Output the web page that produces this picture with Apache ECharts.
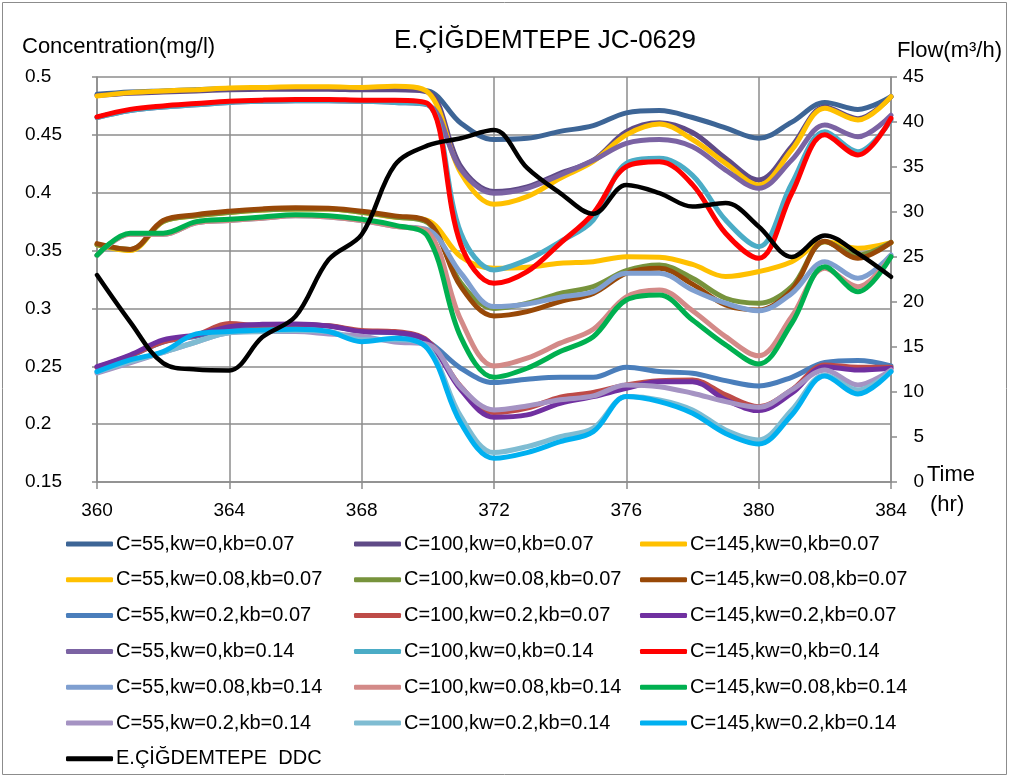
<!DOCTYPE html>
<html>
<head>
<meta charset="utf-8">
<script src="https://cdn.jsdelivr.net/npm/echarts@6/dist/echarts.min.js"></script>
<style>
html,body{margin:0;padding:0;background:#fff;}
#chart{width:1010px;height:778px;}
</style>
</head>
<body>
<div id="chart"></div>
<script>
// ---- data ----
const hours = [360,361,362,363,364,365,366,367,368,369,370,371,372,373,374,375,376,377,378,379,380,381,382,383,384];
const xTicks = [360,364,368,372,376,380,384];

const c55_kw0_kb007   = [0.485,0.487,0.488,0.489,0.490,0.490,0.490,0.490,0.4895,0.4895,0.488,0.460,0.446,0.447,0.453,0.458,0.469,0.471,0.465,0.456,0.447,0.461,0.478,0.472,0.483];
const c100_kw0_kb007  = [0.484,0.486,0.487,0.488,0.489,0.4895,0.4895,0.4895,0.489,0.489,0.487,0.4225,0.401,0.405,0.4168,0.428,0.4527,0.4605,0.452,0.4297,0.411,0.440,0.474,0.464,0.483];
const c145_kw0_kb007  = [0.4836,0.4865,0.488,0.489,0.4905,0.491,0.4915,0.4915,0.491,0.492,0.487,0.417,0.390,0.3966,0.4125,0.427,0.450,0.4594,0.446,0.4254,0.4067,0.437,0.473,0.4628,0.483];
const c55_kw008_kb007 = [0.355,0.350,0.375,0.380,0.383,0.385,0.386,0.386,0.383,0.379,0.376,0.3447,0.3347,0.3356,0.339,0.3404,0.3447,0.3442,0.338,0.3275,0.3318,0.3404,0.3577,0.352,0.3568];
const c100_kw008_kb007= [0.355,0.351,0.375,0.380,0.383,0.385,0.386,0.386,0.383,0.379,0.374,0.322,0.300,0.3045,0.313,0.3188,0.3326,0.3376,0.326,0.3088,0.3045,0.3188,0.3577,0.3462,0.357];
const c145_kw008_kb007= [0.356,0.351,0.376,0.381,0.384,0.386,0.387,0.3865,0.384,0.380,0.375,0.3188,0.2935,0.2972,0.306,0.313,0.3304,0.3347,0.321,0.303,0.2987,0.316,0.358,0.3434,0.357];
const c55_kw02_kb007  = [0.249,0.259,0.271,0.276,0.283,0.285,0.286,0.285,0.280,0.279,0.2713,0.2483,0.2359,0.2388,0.2405,0.2405,0.2492,0.2454,0.244,0.2376,0.233,0.2405,0.2532,0.2549,0.2503];
const c100_kw02_kb007 = [0.249,0.259,0.271,0.277,0.287,0.285,0.286,0.285,0.281,0.280,0.272,0.2324,0.210,0.2138,0.2233,0.2273,0.2339,0.2376,0.2382,0.2253,0.2151,0.2296,0.2512,0.2492,0.2492];
const c145_kw02_kb007 = [0.2497,0.2598,0.2728,0.2771,0.2843,0.2863,0.2866,0.2849,0.280,0.2791,0.2713,0.2296,0.206,0.208,0.218,0.2238,0.231,0.2367,0.2367,0.221,0.2117,0.2267,0.2497,0.2468,0.2483];
const c55_kw0_kb014   = [0.465,0.471,0.474,0.476,0.478,0.479,0.4795,0.4795,0.479,0.478,0.476,0.420,0.3995,0.4038,0.4153,0.428,0.4427,0.446,0.4398,0.4196,0.4038,0.4283,0.4585,0.4484,0.467];
const c100_kw0_kb014  = [0.465,0.471,0.474,0.476,0.478,0.479,0.4795,0.4795,0.479,0.478,0.476,0.365,0.3333,0.342,0.3577,0.3764,0.4254,0.4297,0.415,0.3764,0.3534,0.408,0.4527,0.4355,0.4628];
const c145_kw0_kb014  = [0.4655,0.472,0.475,0.477,0.479,0.480,0.4805,0.4805,0.480,0.480,0.477,0.355,0.3217,0.3318,0.3563,0.3822,0.4225,0.4268,0.407,0.365,0.3434,0.3995,0.450,0.4326,0.4643];
const c55_kw008_kb014 = [0.346,0.364,0.364,0.374,0.376,0.378,0.380,0.379,0.376,0.371,0.368,0.3304,0.3016,0.3039,0.3097,0.3145,0.3304,0.3304,0.316,0.3045,0.298,0.313,0.3404,0.326,0.3462];
const c100_kw008_kb014= [0.346,0.364,0.364,0.374,0.376,0.378,0.380,0.379,0.376,0.371,0.366,0.290,0.2503,0.257,0.270,0.282,0.310,0.316,0.298,0.2756,0.259,0.293,0.3347,0.3188,0.3447];
const c145_kw008_kb014= [0.346,0.365,0.365,0.375,0.377,0.379,0.381,0.380,0.377,0.372,0.362,0.275,0.2405,0.2483,0.2627,0.2756,0.3073,0.3116,0.290,0.2685,0.252,0.2872,0.336,0.3145,0.3447];
const c55_kw02_kb014  = [0.244,0.253,0.262,0.271,0.279,0.280,0.280,0.278,0.276,0.271,0.269,0.232,0.2123,0.2157,0.221,0.2244,0.2339,0.2324,0.2267,0.2195,0.2146,0.2296,0.2468,0.2339,0.2468];
const c100_kw02_kb014 = [0.245,0.254,0.262,0.271,0.279,0.280,0.281,0.280,0.273,0.273,0.266,0.2065,0.1754,0.1806,0.1892,0.1965,0.2238,0.221,0.2123,0.195,0.1864,0.2123,0.2425,0.2296,0.2454];
const c145_kw02_kb014 = [0.2454,0.2555,0.2627,0.278,0.280,0.2814,0.282,0.280,0.2713,0.2742,0.265,0.2008,0.1705,0.1754,0.1849,0.1935,0.2238,0.2195,0.2094,0.192,0.1829,0.208,0.2417,0.2261,0.2454];
const ddcFlow         = [23.0,17.8,13.2,12.5,12.4,16.1,18.4,24.7,27.5,35.2,37.4,38.2,39.1,34.9,32.1,29.8,33.0,32.1,30.6,31.0,28.4,25.0,27.4,25.4,22.8];

const seriesNames = [
  'C=55,kw=0,kb=0.07','C=100,kw=0,kb=0.07','C=145,kw=0,kb=0.07',
  'C=55,kw=0.08,kb=0.07','C=100,kw=0.08,kb=0.07','C=145,kw=0.08,kb=0.07',
  'C=55,kw=0.2,kb=0.07','C=100,kw=0.2,kb=0.07','C=145,kw=0.2,kb=0.07',
  'C=55,kw=0,kb=0.14','C=100,kw=0,kb=0.14','C=145,kw=0,kb=0.14',
  'C=55,kw=0.08,kb=0.14','C=100,kw=0.08,kb=0.14','C=145,kw=0.08,kb=0.14',
  'C=55,kw=0.2,kb=0.14','C=100,kw=0.2,kb=0.14','C=145,kw=0.2,kb=0.14'
];
const ddcName = 'E.ÇİĞDEMTEPE  DDC';
const seriesValues = [
  c55_kw0_kb007,c100_kw0_kb007,c145_kw0_kb007,
  c55_kw008_kb007,c100_kw008_kb007,c145_kw008_kb007,
  c55_kw02_kb007,c100_kw02_kb007,c145_kw02_kb007,
  c55_kw0_kb014,c100_kw0_kb014,c145_kw0_kb014,
  c55_kw008_kb014,c100_kw008_kb014,c145_kw008_kb014,
  c55_kw02_kb014,c100_kw02_kb014,c145_kw02_kb014
];
const seriesColors = [
  '#3D6596','#5F4A87','#FFC000',
  '#FFC000','#77933C','#984807',
  '#4A7EBB','#BE4B48','#7030A0',
  '#7B63A3','#4BACC6','#FF0000',
  '#7F9FD0','#D38A88','#00B050',
  '#A593C3','#7FBCD2','#00B0F0'
];

// ---- chart ----
const FONT = 'Liberation Sans';
const chart = echarts.init(document.getElementById('chart'));

const series = seriesValues.map((vals, i) => ({
  name: seriesNames[i],
  type: 'line',
  yAxisIndex: 0,
  smooth: 0.35,
  showSymbol: false,
  symbol: 'none',
  color: seriesColors[i],
  lineStyle: {width: 5, color: seriesColors[i], cap: 'round'},
  data: hours.map((h, j) => [h, vals[j]])
}));
series.push({
  name: ddcName,
  type: 'line',
  yAxisIndex: 1,
  smooth: 0.35,
  showSymbol: false,
  symbol: 'none',
  color: '#000000',
  lineStyle: {width: 4.5, color: '#000000', cap: 'round'},
  data: hours.map((h, j) => [h, ddcFlow[j]])
});

const col1 = [seriesNames[0],seriesNames[3],seriesNames[6],seriesNames[9],seriesNames[12],seriesNames[15],ddcName];
const col2 = [seriesNames[1],seriesNames[4],seriesNames[7],seriesNames[10],seriesNames[13],seriesNames[16]];
const col3 = [seriesNames[2],seriesNames[5],seriesNames[8],seriesNames[11],seriesNames[14],seriesNames[17]];

function legendCol(left, data) {
  return {
    orient: 'vertical',
    left: left,
    top: 533,
    padding: 0,
    itemWidth: 47,
    itemHeight: 5,
    itemGap: 13.8,
    icon: 'roundRect',
    selectedMode: false,
    textStyle: {fontFamily: FONT, fontSize: 20, color: '#000', lineHeight: 22, padding: [0,0,0,-2]},
    data: data
  };
}

const gridColor = '#8C8C8C';
const option = {
  animation: false,
  backgroundColor: '#ffffff',
  title: {
    text: 'E.ÇİĞDEMTEPE JC-0629',
    left: 394,
    top: 28,
    padding: 0,
    textStyle: {fontFamily: FONT, fontSize: 26, fontWeight: 'normal', color: '#000'}
  },
  legend: [legendCol(66, col1), legendCol(354, col2), legendCol(640, col3)],
  grid: {left: 97, right: 119, top: 77, bottom: 296, containLabel: false},
  xAxis: {
    type: 'value',
    min: 360, max: 384, interval: 4,
    axisLine: {show: true, lineStyle: {color: gridColor, width: 1.5}},
    axisTick: {show: true, length: 7, lineStyle: {color: gridColor, width: 1.5}},
    splitLine: {show: true, lineStyle: {color: gridColor, width: 1.5}},
    axisLabel: {fontFamily: FONT, fontSize: 19, color: '#000', margin: 19,
      customValues: xTicks}
  },
  yAxis: [
    {
      type: 'value', min: 0.15, max: 0.5, interval: 0.05,
      axisLine: {show: true, lineStyle: {color: gridColor, width: 1.5}},
      axisTick: {show: true, length: 5, lineStyle: {color: gridColor, width: 1.5}},
      splitLine: {show: true, lineStyle: {color: gridColor, width: 1.5}},
      axisLabel: {fontFamily: FONT, fontSize: 19, color: '#000', align: 'left', margin: 72,
        formatter: v => String(Math.round(v * 100) / 100)}
    },
    {
      type: 'value', min: 0, max: 45, interval: 5, position: 'right',
      axisLine: {show: true, lineStyle: {color: gridColor, width: 1.5}},
      axisTick: {show: true, length: 6, lineStyle: {color: gridColor, width: 1.5}},
      splitLine: {show: false},
      axisLabel: {fontFamily: FONT, fontSize: 19, color: '#000', align: 'right', margin: 33}
    }
  ],
  graphic: [
    {type: 'rect', shape: {x: 2.5, y: 2.5, width: 1004, height: 772}, style: {fill: null, stroke: '#8C8C8C', lineWidth: 1}, silent: true, z: -10},
    {type: 'text', left: 22, top: 36, style: {text: 'Concentration(mg/l)', fontFamily: FONT, fontSize: 22, fill: '#000'}},
    {type: 'text', right: 8, top: 40, style: {text: 'Flow(m³/h)', fontFamily: FONT, fontSize: 22, fill: '#000'}},
    {type: 'text', left: 927, top: 464, style: {text: 'Time', fontFamily: FONT, fontSize: 22, fill: '#000'}},
    {type: 'text', left: 930, top: 494, style: {text: '(hr)', fontFamily: FONT, fontSize: 22, fill: '#000'}}
  ],
  series: series
};
chart.setOption(option);
</script>
</body>
</html>
